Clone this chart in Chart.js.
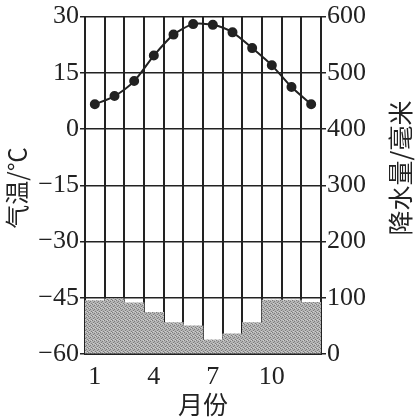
<!DOCTYPE html>
<html>
<head>
<meta charset="utf-8">
<script src="https://cdn.jsdelivr.net/npm/chart.js@4/dist/chart.umd.min.js"></script>
<style>
  html, body { margin: 0; padding: 0; background: #fff; }
  #wrap { width: 419px; height: 419px; }
</style>
</head>
<body>
<div id="wrap"><canvas id="climate" width="419" height="419"></canvas></div>
<script>
const months = ['1', '2', '3', '4', '5', '6', '7', '8', '9', '10', '11', '12']
const shownMonths = ['1', '4', '7', '10']
const temperature = [6.6, 8.8, 12.8, 19.6, 25.2, 28, 27.8, 25.8, 21.6, 17, 11.2, 6.6]
const precipitation = [95, 98, 91, 74, 56, 50, 25, 36, 56, 96, 96, 92]
const tempTicks = [-60, -45, -30, -15, 0, 15, 30]
const rainTicks = [0, 100, 200, 300, 400, 500, 600]

const serif = '"Liberation Serif", "DejaVu Serif", serif'
const cjk = '"Noto Sans CJK SC", "Noto Sans", sans-serif'

// grey stipple for the rain bars, like the printed screen
function stipple() {
  const c = document.createElement('canvas')
  c.width = 4
  c.height = 4
  const g = c.getContext('2d')
  g.fillStyle = '#b4b4b4'
  g.fillRect(0, 0, 4, 4)
  g.fillStyle = '#7c7c7c'
  g.fillRect(0, 0, 1, 1)
  g.fillRect(2, 1, 1, 1)
  g.fillRect(1, 2, 1, 1)
  g.fillRect(3, 3, 1, 1)
  g.fillStyle = '#d0d0d0'
  g.fillRect(3, 0, 1, 1)
  g.fillRect(1, 3, 1, 1)
  return g.createPattern(c, 'repeat')
}

// axis titles drawn by hand so the right one reads bottom-to-top like the left
const titlesPlugin = {
  id: 'titles',
  afterDraw(chart) {
    const ctx = chart.ctx
    const area = chart.chartArea
    ctx.save()
    ctx.fillStyle = '#222'
    ctx.textAlign = 'center'
    ctx.textBaseline = 'middle'
    ctx.font = '24px ' + cjk
    ctx.save()
    ctx.translate(17, 188)
    ctx.rotate(-Math.PI / 2)
    ctx.fillText('气温/℃', 0, 0)
    ctx.restore()
    ctx.font = '25px ' + cjk
    ctx.save()
    ctx.translate(400, 168)
    ctx.rotate(-Math.PI / 2)
    ctx.fillText('降水量/毫米', 0, 0)
    ctx.restore()
    ctx.font = '25px ' + cjk
    ctx.fillText('月份', (area.left + area.right) / 2, 404)
    ctx.restore()
  }
}

new Chart(document.getElementById('climate'), {
  data: {
    labels: months,
    datasets: [
      {
        type: 'line',
        label: '气温',
        data: temperature,
        yAxisID: 'y',
        borderColor: '#222',
        borderWidth: 2,
        backgroundColor: '#222',
        pointRadius: 4,
        pointHoverRadius: 4,
        tension: 0.25,
        order: 0
      },
      {
        type: 'bar',
        label: '降水量',
        data: precipitation,
        yAxisID: 'y2',
        backgroundColor: stipple(),
        barPercentage: 1,
        categoryPercentage: 1,
        order: 1
      }
    ]
  },
  options: {
    responsive: false,
    animation: false,
    layout: { padding: { top: 16 } },
    plugins: {
      legend: { display: false },
      tooltip: { enabled: false }
    },
    scales: {
      x: {
        z: 1,
        offset: true,
        grid: { color: '#222', lineWidth: 2, drawTicks: false, offset: true },
        border: { color: '#222', width: 2 },
        ticks: {
          color: '#222',
          padding: 8,
          maxRotation: 0,
          autoSkip: false,
          font: { family: serif, size: 26 },
          callback: function (value) {
            const lab = months[value]
            return shownMonths.includes(lab) ? lab : ''
          }
        },
        afterFit(scale) { scale.height = 65 }
      },
      y: {
        z: 1,
        position: 'left',
        min: -60,
        max: 30,
        afterBuildTicks(scale) { scale.ticks = tempTicks.map(v => ({ value: v })) },
        grid: { color: '#222', lineWidth: 1.5, tickLength: 5 },
        border: { color: '#222', width: 2 },
        ticks: {
          color: '#222',
          padding: 1,
          font: { family: serif, size: 26 },
          callback: v => (v < 0 ? '\u2212' + Math.abs(v) : String(v))
        },
        afterFit(scale) { scale.width = 85 }
      },
      y2: {
        z: 1,
        position: 'right',
        min: 0,
        max: 600,
        afterBuildTicks(scale) { scale.ticks = rainTicks.map(v => ({ value: v })) },
        grid: { drawOnChartArea: false, color: '#222', lineWidth: 1.5, tickLength: 5 },
        border: { color: '#222', width: 2 },
        ticks: {
          color: '#222',
          padding: 1,
          font: { family: serif, size: 26 }
        },
        afterFit(scale) { scale.width = 98 }
      }
    }
  },
  plugins: [titlesPlugin]
})
</script>
</body>
</html>
